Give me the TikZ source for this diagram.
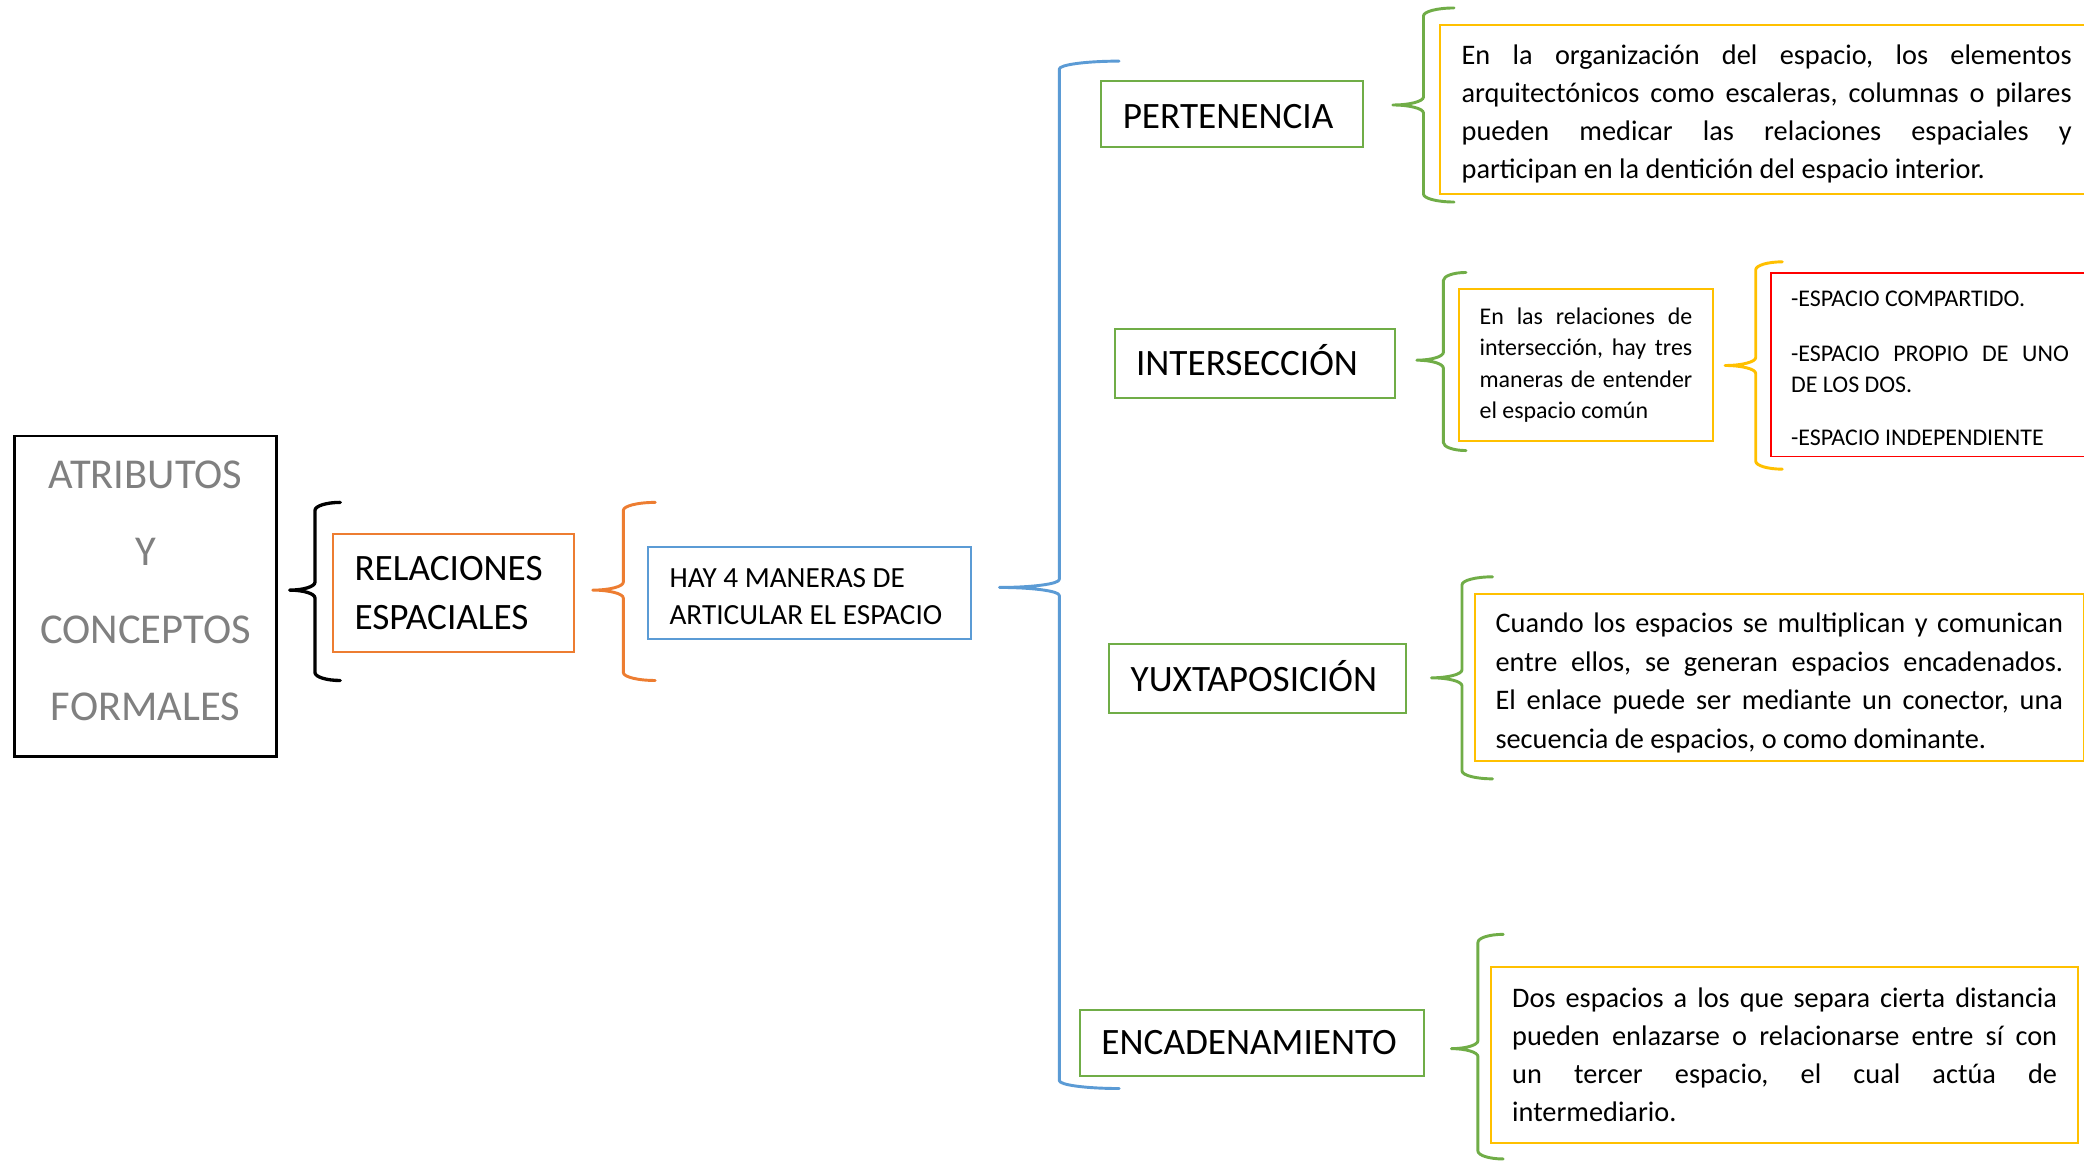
\documentclass[tikz,border=0pt]{standalone}
\usepackage{fontspec}
\setmainfont{Carlito}
\setlength{\parindent}{0pt}
\definecolor{cOrange}{HTML}{ED7D31}
\definecolor{cBlue}{HTML}{5B9BD5}
\definecolor{cGreen}{HTML}{70AD47}
\definecolor{cYellow}{HTML}{FFC000}
\definecolor{cRed}{HTML}{FF0000}
\definecolor{cGray}{HTML}{808080}
\newcommand{\fs}[2]{\fontsize{#1}{#2}\selectfont}
% justified line of given width (pt)
\newcommand{\jl}[2]{\leavevmode\hbox to #1pt{\frenchspacing\spaceskip=0.22em plus 1fil\relax #2}}
% vertical shift of content without changing its size
\newcommand{\sh}[2]{\raisebox{#1}[\height][\depth]{#2}}
% brace: colour, xtip, xv, xend, ytop, ytip, ybot
\newcommand{\mybrace}[7]{%
  \draw[bracestyle, #1] (#4,#5) .. controls ({#4-0.552*(#4-#3)},#5) and (#3,{#5+2.7}) .. (#3,{#5+6})
    -- (#3,{#6-6}) .. controls (#3,{#6-2.7}) and ({#2+0.552*(#3-#2)},#6) .. (#2,#6)
    .. controls ({#2+0.552*(#3-#2)},#6) and (#3,{#6+2.7}) .. (#3,{#6+6})
    -- (#3,{#7-6}) .. controls (#3,{#7-2.7}) and ({#4-0.552*(#4-#3)},#7) .. (#4,#7);}
\tikzset{
  bracestyle/.style={line width=2.2pt, line cap=round, line join=round},
  bx/.style={draw, line width=1.5pt, inner sep=0pt, anchor=north west, align=left, text=black},
  greenbx/.style={bx, draw=cGreen, font=\fs{28}{34}},
  yellowbx/.style={bx, draw=cYellow, font=\fs{21.3}{28.7}},
}
\begin{document}
\begin{tikzpicture}[x=1pt,y=-1pt]
\useasboundingbox (0,0) rectangle (1568,874);
\fill[white] (0,0) rectangle (1568,874);
\clip (0,0) rectangle (1568,874);

% left column
\node[bx, draw=black, line width=2pt, minimum width=197, minimum height=241, text=cGray, font=\fs{32}{58.3}] (attr) at (10,327)
  {\sh{4pt}{\parbox{180pt}{\centering ATRIBUTOS\\Y\\CONCEPTOS\\FORMALES}}};
\node[bx, draw=cOrange, minimum width=181, minimum height=89, font=\fs{28}{37}] (rel) at (250,401)
  {\parbox{149pt}{RELACIONES\\ESPACIALES}};
\node[bx, draw=cBlue, minimum width=243, minimum height=69, font=\fs{22}{28}] (hay) at (487,411)
  {\sh{-2.5pt}{\parbox{211pt}{HAY 4 MANERAS DE\\ARTICULAR EL ESPACIO}}};

% green category boxes
\node[greenbx, minimum width=197, minimum height=50, text width=165] (pert) at (828,60) {\sh{-2pt}{PERTENENCIA}};
\node[greenbx, minimum width=211, minimum height=52, text width=179] (inter) at (838,247) {\sh{3pt}{INTERSECCIÓN}};
\node[greenbx, minimum width=223, minimum height=52, text width=191] (yux) at (834,484) {\sh{2pt}{YUXTAPOSICIÓN}};
\node[greenbx, minimum width=259, minimum height=50, text width=227] (enc) at (812,759) {ENCADENAMIENTO};

% description boxes
\node[yellowbx, minimum width=491, minimum height=127] (d1) at (1083,18) {\sh{-3.5pt}{\parbox{459pt}{%
\jl{459}{En la organización del espacio, los elementos}\\
\jl{459}{arquitectónicos como escaleras, columnas o pilares}\\
\jl{459}{pueden medicar las relaciones espaciales y}\\
participan en la dentición del espacio interior.}}};

\node[bx, draw=cYellow, font=\fs{18}{23.7}, minimum width=191, minimum height=114] (d2) at (1097,217) {\parbox{160pt}{%
\jl{160}{En las relaciones de}\\
\jl{160}{intersección, hay tres}\\
\jl{160}{maneras de entender}\\
el espacio común}};

\node[bx, draw=cRed, line width=1.2pt, font=\fs{18}{23.5}, minimum width=239, minimum height=138] (d2b) at (1332,205) {\sh{-2.5pt}{\parbox{209pt}{%
-ESPACIO COMPARTIDO.\\[17.5pt]
\jl{209}{-ESPACIO PROPIO DE UNO}\\
DE LOS DOS.\\[16.5pt]
-ESPACIO INDEPENDIENTE}}};

\node[yellowbx, font=\fs{21.3}{29}, minimum width=458, minimum height=126] (d3) at (1109,446) {\sh{-4pt}{\parbox{427pt}{%
\jl{427}{Cuando los espacios se multiplican y comunican}\\
\jl{427}{entre ellos, se generan espacios encadenados.}\\
\jl{427}{El enlace puede ser mediante un conector, una}\\
secuencia de espacios, o como dominante.}}};

\node[yellowbx, minimum width=442, minimum height=132] (d4) at (1121,727) {\parbox{410pt}{%
\jl{410}{Dos espacios a los que separa cierta distancia}\\
\jl{410}{pueden enlazarse o relacionarse entre sí con}\\
\jl{410}{un tercer espacio, el cual actúa de}\\
intermediario.}};

% braces
\mybrace{black, line width=2.5pt}{218}{237}{256}{378}{444}{512}
\mybrace{cOrange}{446}{469}{493}{378}{444}{512}
\mybrace{cBlue}{752}{797}{842}{46}{442}{819}
\mybrace{cGreen}{1048}{1071}{1094}{6}{79}{152}
\mybrace{cGreen}{1066}{1086}{1103}{205}{271}{339}
\mybrace{cYellow}{1298}{1321}{1341}{197}{275}{353}
\mybrace{cGreen}{1077}{1100}{1123}{434}{510}{586}
\mybrace{cGreen}{1092}{1112}{1131}{703}{789}{872}
\end{tikzpicture}
\end{document}
